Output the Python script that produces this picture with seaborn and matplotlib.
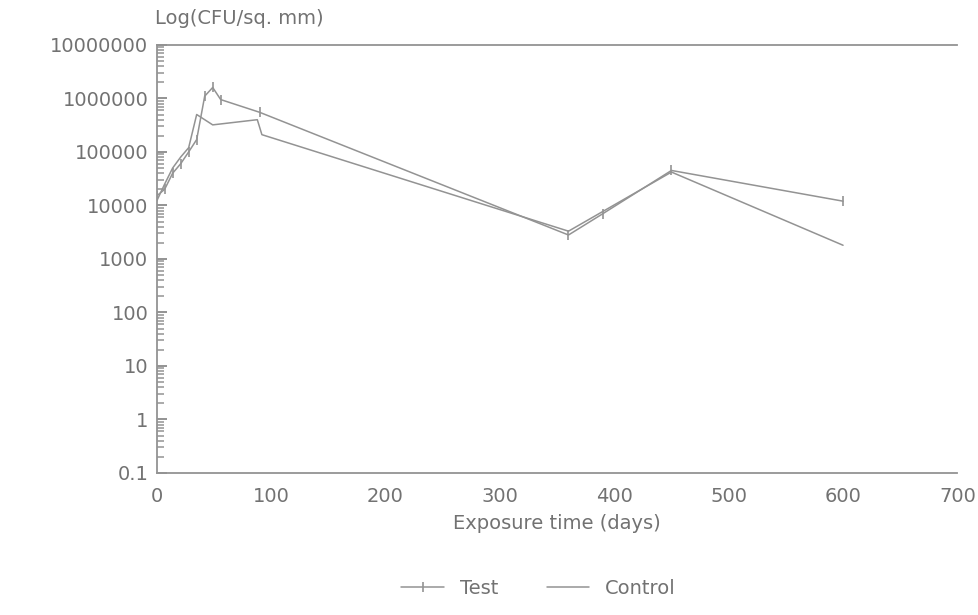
import matplotlib
matplotlib.use("Agg")
import matplotlib.pyplot as plt
import matplotlib.ticker as mticker
import seaborn as sns
import numpy as np

# exposure days and counts
test_days = [0, 7, 14, 21, 28, 35, 42, 49, 56, 90, 360, 390, 450, 600]
test_cfu = [15000, 20000, 40000, 60000, 100000, 170000, 1100000, 1600000,
            950000, 550000, 2800, 7000, 45000, 12000]

control_days = [0, 7, 14, 21, 28, 35, 42, 49, 88, 92, 360, 450, 600]
control_cfu = [12000, 25000, 50000, 80000, 120000, 500000, 400000, 320000,
               400000, 210000, 3300, 42000, 1800]

y_ticks = [0.1, 1, 10, 100, 1000, 10000, 100000, 1000000, 10000000]
y_labels = ["0.1", "1", "10", "100", "1000", "10000", "100000", "1000000", "10000000"]
x_ticks = [0, 100, 200, 300, 400, 500, 600, 700]

sns.set_style("white")
plt.rcParams['font.family'] = ['DejaVu Sans']
grey = "#939393"
txt = "#727272"

fig = plt.figure(figsize=(9.79, 6.15), dpi=100)
ax = fig.add_axes([0.160, 0.231, 0.818, 0.696])

sns.lineplot(x=test_days, y=test_cfu, ax=ax, color=grey, lw=1.1,
             marker="|", markersize=7, markeredgewidth=1.2,
             markeredgecolor=grey, label="Test", sort=False)
sns.lineplot(x=control_days, y=control_cfu, ax=ax, color=grey, lw=1.1,
             label="Control", sort=False)

ax.set_yscale("log")
ax.set_ylim(0.1, 10000000)
ax.set_xlim(0, 700)
ax.set_yticks(y_ticks)
ax.yaxis.set_major_formatter(mticker.FixedFormatter(y_labels))
ax.yaxis.set_minor_locator(mticker.LogLocator(base=10, subs=np.arange(2, 10), numticks=20))
ax.yaxis.set_minor_formatter(mticker.NullFormatter())
ax.set_xticks(x_ticks)

ax.tick_params(axis="y", which="major", left=True, direction="in", length=7,
               width=1.4, color=grey, labelsize=14, labelcolor=txt, pad=6)
ax.tick_params(axis="y", which="minor", left=True, direction="in", length=5,
               width=1.1, color=grey)
ax.tick_params(axis="x", length=0, labelsize=14, labelcolor=txt, pad=10)

for side in ["left", "bottom", "top"]:
    ax.spines[side].set_color(grey)
    ax.spines[side].set_linewidth(1.3)
ax.spines["right"].set_visible(False)

ax.set_xlabel("Exposure time (days)", fontsize=14, color=txt, labelpad=6)
ax.set_ylabel("")
fig.text(0.158, 0.97, "Log(CFU/sq. mm)", fontsize=14, color=txt,
         ha="left", va="center")

ax.legend_.remove()
handles, labels = ax.get_legend_handles_labels()
leg = fig.legend(handles, labels, loc="lower center", bbox_to_anchor=(0.55, 0.0),
                 ncol=2, frameon=False, fontsize=14, handlelength=2.2,
                 columnspacing=2.5)
for t in leg.get_texts():
    t.set_color(txt)

fig.savefig("out.png", dpi=100)
